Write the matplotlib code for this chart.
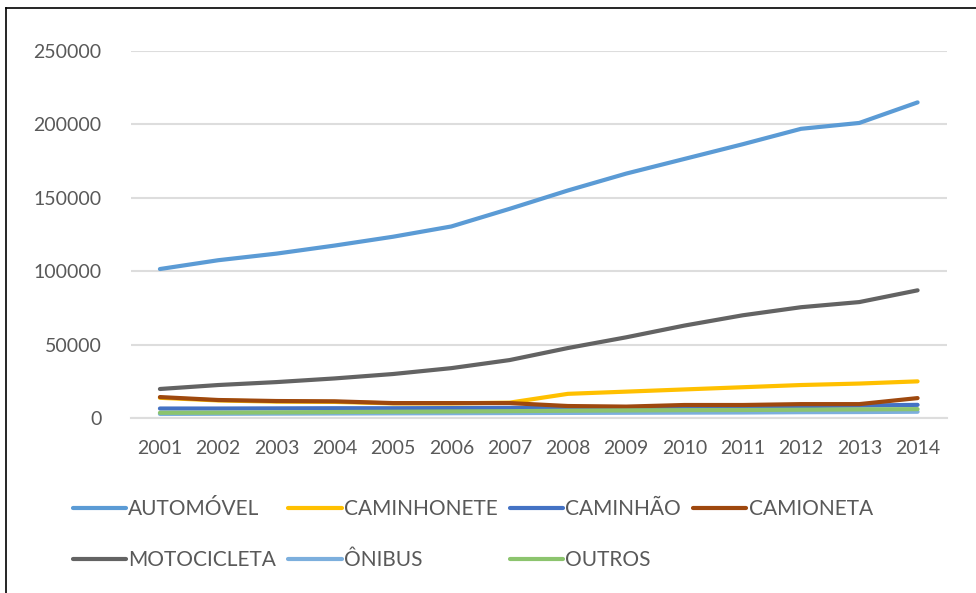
import matplotlib.pyplot as plt
from matplotlib.lines import Line2D

years = list(range(2001, 2015))

automovel = [101500, 107500, 112000, 117500, 123500, 130500, 142500, 155000, 166500, 176500, 186500, 197000, 201000, 215000]
caminhonete = [13800, 12000, 11200, 11000, 10000, 10000, 10500, 16500, 18000, 19500, 21000, 22500, 23500, 25000]
caminhao = [6500, 6500, 6600, 6700, 6700, 6800, 6900, 7000, 7200, 7500, 7800, 8200, 8500, 9000]
camioneta = [14300, 12300, 11600, 11400, 10200, 10200, 10200, 8200, 7800, 8900, 8900, 9500, 9500, 13600]
motocicleta = [19800, 22500, 24500, 27000, 30000, 34000, 39500, 47700, 55000, 63000, 70000, 75500, 79000, 87000]
onibus = [2800, 2900, 3000, 3100, 3200, 3300, 3400, 3500, 3600, 3700, 3800, 4000, 4100, 4300]
outros = [3600, 3700, 3900, 4100, 4300, 4500, 4700, 5000, 5200, 5400, 5500, 5700, 5900, 6100]

series = [
    ("AUTOMÓVEL", automovel, "#5B9BD5"),
    ("CAMINHONETE", caminhonete, "#FFC000"),
    ("CAMINHÃO", caminhao, "#4472C4"),
    ("CAMIONETA", camioneta, "#9E480E"),
    ("MOTOCICLETA", motocicleta, "#636363"),
    ("ÔNIBUS", onibus, "#7CAFDD"),
    ("OUTROS", outros, "#8CC46E"),
]

plt.rcParams['font.family'] = ['Lato', 'DejaVu Sans']

fig = plt.figure(figsize=(9.76, 5.93), dpi=100)
ax = fig.add_axes([0.134, 0.295, 0.836, 0.619])

handles = {}
for name, vals, col in series:
    ln, = ax.plot(years, vals, color=col, lw=3.0, solid_capstyle='round', label=name)
    handles[name] = ln

ax.set_xlim(2000.5, 2014.5)
ax.set_ylim(0, 250000)
ax.set_yticks(range(0, 250001, 50000))
ax.set_xticks(years)
ax.grid(axis='y', color='#DDDDDD', lw=1.5)
ax.set_axisbelow(True)
for s in ['top', 'right', 'left']:
    ax.spines[s].set_visible(False)
ax.spines['bottom'].set_color('#DDDDDD')
ax.spines['bottom'].set_linewidth(1.5)
ax.tick_params(length=0, labelsize=14, colors='#595959')
ax.tick_params(axis='y', pad=21)
ax.tick_params(axis='x', pad=16)

# matplotlib fills legend columns first, so interleave to get excel's row order
leg_order = ["AUTOMÓVEL", "MOTOCICLETA", "CAMINHONETE", "ÔNIBUS", "CAMINHÃO", "OUTROS", "CAMIONETA"]
leg = fig.legend([handles[n] for n in leg_order], leg_order, ncol=4, loc='upper left',
                 bbox_to_anchor=(0.0554, 0.190), frameon=False,
                 handlelength=2.55, handletextpad=0.1, columnspacing=0.6,
                 labelspacing=1.5, fontsize=15, labelcolor='#595959')

# border visible on top and left only (cropped screenshot)
fig.add_artist(Line2D([0.006, 1.0], [0.987, 0.987], color='black', lw=1.2))
fig.add_artist(Line2D([0.006, 0.006], [0.0, 0.987], color='black', lw=1.2))

fig.savefig('out.png', dpi=100)
